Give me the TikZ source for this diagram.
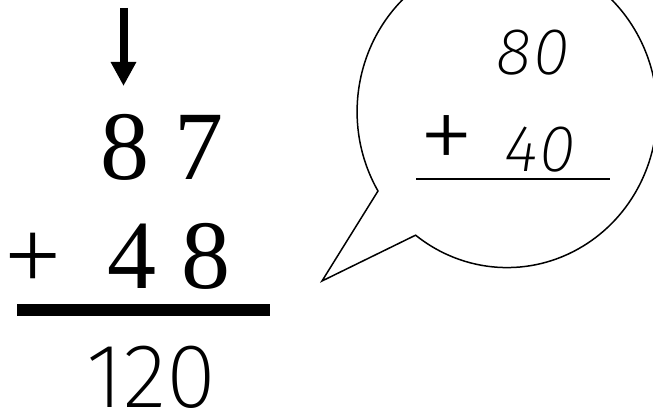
\documentclass[tikz,border=0pt]{standalone}
\usepackage{fontspec}
\usetikzlibrary{arrows.meta}
\newfontfamily\digserif{Liberation Serif}
\newfontfamily\handfont{Fira Sans ExtraLight}
\newfontfamily\handslant{Fira Sans ExtraLight Italic}[LetterSpace=3]

\begin{document}
\begin{tikzpicture}[x=1pt, y=-1pt,
  bigdig/.style={font=\digserif\fontsize{98}{98}\selectfont, inner sep=0pt, anchor=base},
  handdig/.style={font=\handslant\fontsize{66}{66}\selectfont, inner sep=0pt, anchor=base}]
  \useasboundingbox (0,0) rectangle (653,414);

  % --- Column sum ---
  \coordinate (arrtop) at (123.5,8);
  \coordinate (arrtip) at (123.5,86);
  \draw[line width=8pt, -{Triangle[width=24pt,length=24pt]}] (arrtop) -- (arrtip);

  \node[bigdig] (top) at (162,180) {8 7};
  \node[bigdig] (plus) at (33,288) {+};
  \node[bigdig] (bottom) at (169,288) {4 8};
  \draw[line width=12pt] (17,310) -- (270,310);
  \node[font=\handfont\fontsize{91}{91}\selectfont, inner sep=0pt, anchor=base] (sum) at (151,407) {120};

  % --- Speech bubble ---
  \coordinate (tailtip) at (322,281);
  \draw[line width=1.5pt] (tailtip) -- (378,191)
    arc[start angle=149.4, end angle=487.6, x radius=150, y radius=156] -- cycle;
  \node[handdig] (eighty) at (533,75) {80};
  \node[font=\handfont\fontsize{115}{115}\selectfont, inner sep=0pt] (hplus) at (447,145) {+};
  \node[handdig] (forty) at (540,172) {40};
  \draw[line width=1.5pt] (416,179) -- (610,179);

\end{tikzpicture}
\end{document}
